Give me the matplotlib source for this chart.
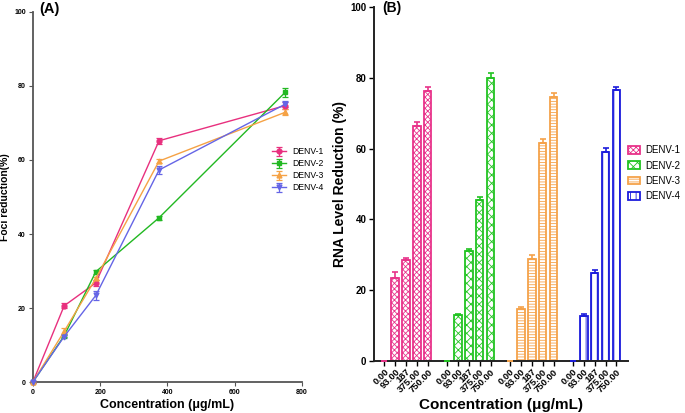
import matplotlib
matplotlib.use("Agg")
import matplotlib.pyplot as plt
import numpy as np

plt.rcParams['font.family'] = ['Liberation Sans', 'DejaVu Sans']
plt.rcParams['hatch.linewidth'] = 0.6

# ---------------- data ----------------
conc = [0, 93, 187, 375, 750]
serotypes = ['DENV-1', 'DENV-2', 'DENV-3', 'DENV-4']

foci_d1 = [0, 20.6, 26.8, 65.2, 74.7]
foci_d2 = [0, 12.5, 29.8, 44.4, 78.3]
foci_d3 = [0, 13.7, 28.0, 59.7, 72.9]
foci_d4 = [0, 12.3, 23.4, 57.3, 75.1]
foci_e1 = [0, 0.7, 0.8, 0.8, 1.0]
foci_e2 = [0, 0.4, 0.6, 0.5, 1.2]
foci_e3 = [0, 0.8, 0.5, 0.6, 0.8]
foci_e4 = [0, 0.5, 1.3, 1.2, 0.9]

dose_labels = ['0.00', '93.00', '187', '375.00', '750.00']
rna_d1 = [0, 23.3, 28.5, 66.4, 76.4]
rna_d2 = [0, 13.0, 31.1, 45.4, 80.0]
rna_d3 = [0, 14.8, 28.7, 61.6, 74.6]
rna_d4 = [0, 12.7, 24.9, 59.0, 76.5]
rna_e1 = [0, 1.7, 0.7, 1.2, 1.0]
rna_e2 = [0, 0.3, 0.4, 0.8, 1.4]
rna_e3 = [0, 0.4, 1.1, 1.1, 1.0]
rna_e4 = [0, 0.5, 0.7, 1.3, 1.0]

line_colors = ['#E8307E', '#22B822', '#F5A245', '#6565E6']
line_markers = ['o', 's', '^', 'v']
bar_colors = ['#E8338A', '#22C422', '#F5A24A', '#1C1CDC']
bar_hatches = ['xxxxxx', 'xxxx', '------', '|||']

fig = plt.figure(figsize=(6.85, 4.13), dpi=100)

# ---------------- panel A ----------------
axA = fig.add_axes([0.048, 0.075, 0.393, 0.896])
foci = [foci_d1, foci_d2, foci_d3, foci_d4]
foci_err = [foci_e1, foci_e2, foci_e3, foci_e4]
for name, vals, errs, c, m in zip(serotypes, foci, foci_err, line_colors, line_markers):
    axA.errorbar(conc, vals, yerr=errs, color=c, marker=m, markersize=3.5,
                 linewidth=1.0, capsize=2, elinewidth=0.9, capthick=0.9,
                 label=name, clip_on=False, zorder=3)
axA.set_xlim(0, 800)
axA.set_ylim(0, 100)
axA.set_xticks([0, 200, 400, 600, 800])
axA.set_yticks([0, 20, 40, 60, 80, 100])
for s in ['top', 'right']:
    axA.spines[s].set_visible(False)
for s in ['left', 'bottom']:
    axA.spines[s].set_color('#555555')
    axA.spines[s].set_linewidth(1.3)
axA.tick_params(axis='both', labelsize=5, width=0.8, length=3, color='#555555', pad=2)
for lab in axA.get_xticklabels() + axA.get_yticklabels():
    lab.set_fontweight('bold')
axA.set_xlabel('Concentration (μg/mL)', fontsize=9, fontweight='bold', labelpad=2)
axA.set_ylabel('Foci reduction(%)', fontsize=7.5, fontweight='bold')
axA.yaxis.set_label_coords(-0.086, 0.5)
axA.legend(loc='upper left', bbox_to_anchor=(0.86, 0.655), frameon=False,
           fontsize=6.2, handlelength=1.6, labelspacing=0.35, handletextpad=0.7)
fig.text(0.057, 0.995, '(A)', fontsize=10.5, fontweight='bold', va='top')

# ---------------- panel B ----------------
axB = fig.add_axes([0.546, 0.126, 0.371, 0.857])
rna = [rna_d1, rna_d2, rna_d3, rna_d4]
rna_err = [rna_e1, rna_e2, rna_e3, rna_e4]
group_step = 5.8
all_pos, all_lab = [], []
for g, (name, vals, errs, c, h) in enumerate(zip(serotypes, rna, rna_err, bar_colors, bar_hatches)):
    pos = np.arange(len(vals)) + g * group_step
    axB.bar(pos, vals, width=0.68, facecolor='white', edgecolor=c, hatch=h,
            linewidth=1.3, label=name, zorder=2)
    axB.errorbar(pos, vals, yerr=[np.zeros(len(errs)), errs], fmt='none',
                 ecolor=c, capsize=2.5, elinewidth=1.2, capthick=1.2, zorder=3)
    all_pos.extend(pos)
    all_lab.extend(dose_labels)
axB.set_xlim(-0.95, 3 * group_step + 4 + 1.08)
axB.set_ylim(0, 100)
axB.set_yticks([0, 20, 40, 60, 80, 100])
axB.set_xticks(all_pos)
axB.set_xticklabels(all_lab, rotation=45, ha='right', rotation_mode='anchor')
for s in ['top', 'right']:
    axB.spines[s].set_visible(False)
for s in ['left', 'bottom']:
    axB.spines[s].set_color('#222222')
    axB.spines[s].set_linewidth(1.4)
axB.tick_params(axis='y', labelsize=7, width=1.0, length=3.5, pad=2)
axB.tick_params(axis='x', labelsize=6.8, width=1.0, length=3.5, pad=1)
for lab in axB.get_xticklabels() + axB.get_yticklabels():
    lab.set_fontweight('bold')
axB.set_xlabel('Concentration (μg/mL)', fontsize=11, fontweight='bold', labelpad=3)
axB.set_ylabel('RNA Level Reduction (%)', fontsize=10, fontweight='bold')
axB.yaxis.set_label_coords(-0.106, 0.5)
axB.legend(loc='upper left', bbox_to_anchor=(0.99, 0.615), frameon=False,
           fontsize=7, handlelength=1.25, handleheight=0.8, labelspacing=0.55,
           handletextpad=0.6, borderaxespad=0.0, borderpad=0.2)
fig.text(0.558, 0.997, '(B)', fontsize=10, fontweight='bold', va='top')

fig.savefig('out.png', dpi=100)
